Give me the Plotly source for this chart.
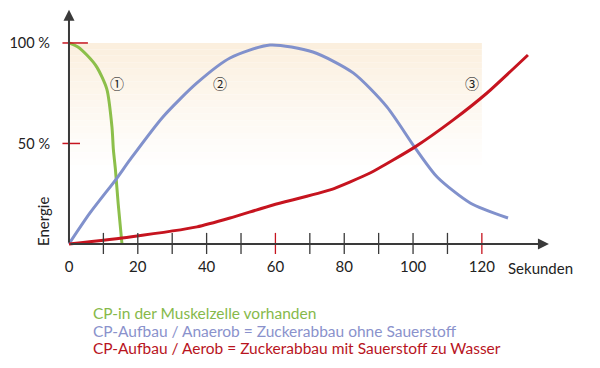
import plotly.graph_objects as go

# ---- data ----
green_x = [0, 2.6, 5.2, 8.1, 11.0, 12.5, 12.9, 13.5, 14.3, 15.4]
green_y = [100, 98, 94, 88, 77, 58, 47, 37, 20, 0]

blue_x = [0, 6.1, 13.95, 17.7, 27.3, 37.2, 46.8, 58.4, 70.9, 82.6, 92.4, 100.6, 107.0, 116.6, 127.6]
blue_y = [0, 15.4, 32.8, 41.8, 63.2, 80.1, 92.5, 99.0, 95.5, 85.1, 68.2, 47.8, 33.3, 20.4, 12.9]

red_x = [0, 17.7, 37.2, 46.8, 59.3, 75.9, 87.5, 100.6, 111.6, 121.5, 133.4]
red_y = [0, 3.5, 8.5, 12.9, 19.4, 26.9, 35.3, 48.3, 61.6, 75.1, 94.0]

x_tick_vals = [0, 20, 40, 60, 80, 100, 120]
x_tick_text = ["0", "20", "40", "60", "80", "100", "120"]
x_minor_ticks = [10, 20, 30, 40, 50, 60, 70, 80, 90, 100, 110, 120]
x_red_ticks = [60, 120]
y_tick_vals = [50, 100]
y_tick_text = ["50 %", "100 %"]

x_title = "Sekunden"
y_title = "Energie"
legend_texts = [
    "CP-in der Muskelzelle vorhanden",
    "CP-Aufbau / Anaerob = Zuckerabbau ohne Sauerstoff",
    "CP-Aufbau / Aerob = Zuckerabbau mit Sauerstoff zu Wasser",
]
curve_marks = ["①", "②", "③"]
mark_x = [14, 44, 117]
mark_y = [80, 80, 80]

GREEN = "#8cbf4a"
BLUE = "#8191cc"
RED = "#c6141f"
AXIS = "#3a3a3a"
TEXT = "#222222"
legend_colors = ["#86b94a", "#8a92cc", "#b8141e"]

# the page puts the figure 8px in from the top-left corner
OFF = 8
# plot-area geometry in figure pixels
L, R, T, B = 54, 553, 0, 248
W, H = R - L, B - T


def px(xp):  # page pixel -> paper x
    return (xp - OFF - L) / W


def py(yp):  # page pixel -> paper y
    return (B - (yp - OFF)) / H


fig = go.Figure()

# beige gradient band (fades to white downwards)
shapes = []
n = 20
top_col = (251, 239, 222)
for i in range(n):
    t = (i / (n - 1)) ** 0.9
    c = tuple(int(round(top_col[k] + (255 - top_col[k]) * t)) for k in range(3))
    y1 = 100 - i * 3.2
    y0 = y1 - 3.2
    shapes.append(dict(type="rect", xref="x", yref="y", x0=0, x1=120, y0=y0, y1=y1,
                       fillcolor=f"rgb{c}", line=dict(width=0), layer="below"))

# x ticks (crossing the axis)
for v in x_minor_ticks:
    col = RED if v in x_red_ticks else AXIS
    shapes.append(dict(type="line", xref="x", yref="y", x0=v, x1=v, y0=-5, y1=5.5,
                       line=dict(color=col, width=1.3)))
# y ticks (red)
shapes.append(dict(type="line", xref="x", yref="y", x0=-1.9, x1=5.5, y0=100, y1=100,
                   line=dict(color=RED, width=1.5)))
shapes.append(dict(type="line", xref="x", yref="y", x0=-1.9, x1=3.2, y0=50, y1=50,
                   line=dict(color=RED, width=1.5)))

fig.add_trace(go.Scatter(x=green_x, y=green_y, mode="lines", line=dict(color=GREEN, width=3, shape="spline", smoothing=0.7), showlegend=False))
fig.add_trace(go.Scatter(x=blue_x, y=blue_y, mode="lines", line=dict(color=BLUE, width=3, shape="spline", smoothing=0.7), showlegend=False))
fig.add_trace(go.Scatter(x=red_x, y=red_y, mode="lines", line=dict(color=RED, width=3, shape="spline", smoothing=0.5), showlegend=False))

annotations = []
# axes with arrowheads
annotations.append(dict(x=0, y=116.5, ax=0, ay=0, xref="x", yref="y", axref="x", ayref="y",
                        text="", showarrow=True, arrowhead=2, arrowsize=1.1, arrowwidth=2, arrowcolor=AXIS))
annotations.append(dict(x=139.5, y=0, ax=0, ay=0, xref="x", yref="y", axref="x", ayref="y",
                        text="", showarrow=True, arrowhead=2, arrowsize=1.1, arrowwidth=2, arrowcolor=AXIS))
annotations.append(dict(x=px(506), y=py(268), xref="paper", yref="paper", text=x_title, showarrow=False,
                        xanchor="left", yanchor="middle", font=dict(family="Lato", size=15, color=TEXT)))
annotations.append(dict(x=px(43), y=py(222), xref="paper", yref="paper", text=y_title, showarrow=False,
                        textangle=-90, xanchor="center", yanchor="middle",
                        font=dict(family="Lato", size=15, color=TEXT)))
for t, mx, my in zip(curve_marks, mark_x, mark_y):
    annotations.append(dict(x=mx, y=my, xref="x", yref="y", text=t, showarrow=False,
                            font=dict(family="Noto Sans CJK JP", size=14, color=TEXT)))
for i, (t, c) in enumerate(zip(legend_texts, legend_colors)):
    annotations.append(dict(x=px(91), y=py(313 + i * 17.5), xref="paper", yref="paper", text=t,
                            showarrow=False, xanchor="left", yanchor="middle",
                            font=dict(family="Lato", size=15.5, color=c)))

fig.update_layout(
    width=600, height=368,
    margin=dict(l=L, r=600 - R, t=T, b=368 - B, autoexpand=False),
    paper_bgcolor="white", plot_bgcolor="white",
    shapes=shapes, annotations=annotations,
    xaxis=dict(range=[-2.03, 143.0], showgrid=False, zeroline=False, showline=False, automargin=False,
               tickvals=x_tick_vals, ticktext=x_tick_text, ticks="",
               tickfont=dict(family="Lato", size=15, color=TEXT)),
    yaxis=dict(range=[-6, 117.4], showgrid=False, zeroline=False, showline=False, automargin=False,
               tickvals=y_tick_vals, ticktext=y_tick_text, ticks="", ticklabelstandoff=11,
               tickfont=dict(family="Lato", size=14.5, color=TEXT)),
)

fig.write_html("out.html")
